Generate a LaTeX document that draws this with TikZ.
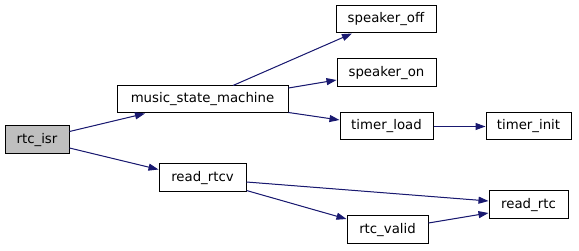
\documentclass[tikz,border=0pt]{standalone}
\usepackage{fontspec}
\setmainfont{DejaVu Sans}
\usetikzlibrary{arrows.meta}
\definecolor{edgeblue}{HTML}{191970}
\definecolor{rootgray}{HTML}{BFBFBF}
\tikzset{
  fn/.style={draw=black, line width=1pt, fill=white, inner sep=0pt,
    font=\fontsize{13.3}{15}\selectfont},
  rootfn/.style={fn, fill=rootgray},
  call/.style={draw=edgeblue, line width=1pt,
    -{Triangle[length=10pt,width=7pt]}, fill=edgeblue},
}
\begin{document}
\begin{tikzpicture}[x=1pt,y=-1pt]
  \useasboundingbox (0,0) rectangle (579,251);
  % functions
  \node[rootfn, minimum width=64pt, minimum height=28pt] (isr) at (37,140) {rtc\_isr};
  \node[fn, minimum width=171pt, minimum height=27pt] (msm) at (202.5,99.5) {music\_state\_machine};
  \node[fn, minimum width=87pt, minimum height=28pt] (rtcv) at (202.5,178) {read\_rtcv};
  \node[fn, minimum width=100pt, minimum height=27pt] (soff) at (386,19.5) {speaker\_off};
  \node[fn, minimum width=99pt, minimum height=28pt] (son) at (386.5,73) {speaker\_on};
  \node[fn, minimum width=93pt, minimum height=27pt] (tload) at (386.5,126.5) {timer\_load};
  \node[fn, minimum width=85pt, minimum height=27pt] (tinit) at (528.5,126.5) {timer\_init};
  \node[fn, minimum width=79pt, minimum height=28pt] (rrtc) at (528.5,205) {read\_rtc};
  \node[fn, minimum width=81pt, minimum height=28pt] (rvalid) at (387.5,230) {rtc\_valid};
  % calls
  \draw[call] ([yshift=8.5pt]isr.east) -- ([xshift=-57.5pt]msm.south);
  \draw[call] ([yshift=-8pt]isr.east) -- ([yshift=8.5pt]rtcv.west);
  \draw[call] ([xshift=30.5pt]msm.north) -- ([xshift=-34pt]soff.south);
  \draw[call] ([yshift=11.5pt]msm.east) -- ([yshift=-7pt]son.west);
  \draw[call] ([yshift=-13pt]msm.east) -- ([yshift=6.5pt]tload.west);
  \draw[call] (tload.east) -- (tinit.west);
  \draw[call] ([yshift=-4pt]rtcv.east) -- ([yshift=4pt]rrtc.west);
  \draw[call] ([yshift=-12.5pt]rtcv.east) -- ([yshift=11pt]rvalid.west);
  \draw[call] ([yshift=7pt]rvalid.east) -- ([yshift=-8pt]rrtc.west);
\end{tikzpicture}
\end{document}
